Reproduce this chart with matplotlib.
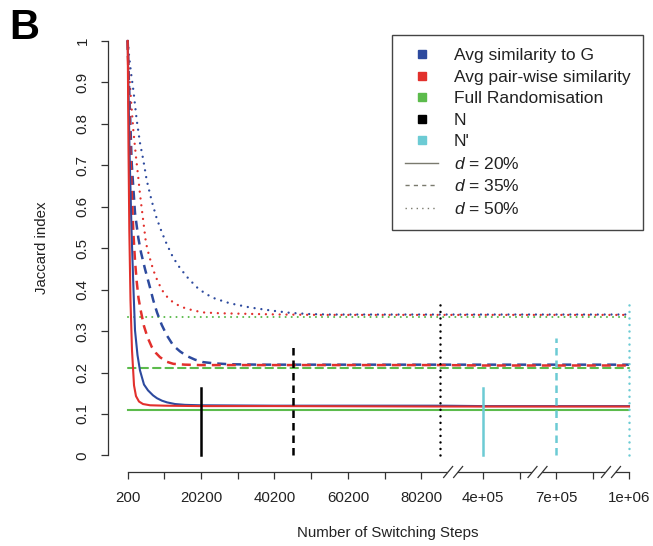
import numpy as np
import matplotlib
matplotlib.use('Agg')
import matplotlib.pyplot as plt
from matplotlib.lines import Line2D
from matplotlib.patches import Polygon

plt.rcParams['font.family'] = ['Liberation Sans', 'DejaVu Sans']
plt.rcParams['mathtext.fontset'] = 'custom'
plt.rcParams['mathtext.it'] = 'Liberation Sans:italic'

# ---- data ----
# d = 20%
red20_x = [200, 420, 640, 960, 1370, 1920, 2460, 3280, 4370, 6280, 10360, 20000, 40000, 86000, 400000, 700000, 1000000]
red20_y = [1.0, 0.737, 0.543, 0.374, 0.254, 0.169, 0.143, 0.130, 0.124, 0.121, 0.120, 0.119, 0.119, 0.118, 0.118, 0.118, 0.118]
blue20_x = [200, 690, 1236, 1780, 2190, 2870, 3550, 4640, 5730, 7090, 8180, 9550, 10910, 13090, 15810, 19900, 40000, 86000, 400000, 700000, 1000000]
blue20_y = [1.0, 0.737, 0.543, 0.399, 0.302, 0.242, 0.205, 0.171, 0.157, 0.145, 0.138, 0.132, 0.128, 0.124, 0.122, 0.121, 0.120, 0.120, 0.119, 0.119, 0.119]
# d = 35%
red35_x = [200, 420, 830, 1290, 1730, 2190, 2650, 3140, 3740, 4640, 5600, 6740, 7910, 9000, 10830, 12630, 15810, 19900, 40000, 86000, 400000, 700000, 1000000]
red35_y = [1.0, 0.906, 0.761, 0.640, 0.540, 0.470, 0.420, 0.380, 0.350, 0.312, 0.285, 0.262, 0.247, 0.237, 0.226, 0.221, 0.219, 0.218, 0.218, 0.218, 0.217, 0.217, 0.217]
blue35_x = [200, 360, 830, 1290, 2190, 3090, 3820, 4910, 6280, 7180, 8190, 9470, 10910, 12630, 14450, 16280, 18540, 20800, 23990, 28080, 36250, 86000, 400000, 700000, 1000000]
blue35_y = [1.0, 0.947, 0.826, 0.705, 0.585, 0.525, 0.490, 0.450, 0.405, 0.374, 0.345, 0.315, 0.289, 0.265, 0.251, 0.240, 0.231, 0.225, 0.222, 0.220, 0.219, 0.219, 0.219, 0.219, 0.219]
# d = 50%
red50_x = [200, 550, 1100, 1730, 2460, 3090, 3550, 4450, 5190, 6000, 7180, 8460, 9910, 11190, 12630, 14450, 16280, 18540, 20800, 25350, 30800, 41700, 52600, 86000, 400000, 700000, 1000000]
red50_y = [1.0, 0.930, 0.857, 0.785, 0.720, 0.670, 0.630, 0.565, 0.512, 0.483, 0.447, 0.418, 0.394, 0.380, 0.369, 0.360, 0.354, 0.349, 0.345, 0.343, 0.342, 0.340, 0.339, 0.339, 0.339, 0.339, 0.339]
blue50_x = [200, 550, 1100, 1730, 2660, 3550, 4450, 5380, 6740, 8100, 9470, 10830, 12540, 14450, 16630, 19000, 21260, 23530, 25900, 28080, 33530, 38980, 44430, 49880, 55330, 86000, 400000, 700000, 1000000]
blue50_y = [1.0, 0.966, 0.923, 0.882, 0.809, 0.754, 0.713, 0.664, 0.614, 0.572, 0.539, 0.510, 0.478, 0.452, 0.428, 0.406, 0.391, 0.380, 0.373, 0.367, 0.357, 0.350, 0.344, 0.341, 0.340, 0.340, 0.340, 0.340, 0.340]

# full randomisation levels (d = 20, 35, 50 %)
green_levels = [0.110, 0.212, 0.334]
# N (black) and N' (cyan) switching steps, and the height of their markers
n_steps = [20200, 45200, 85300]
n_heights = [0.162, 0.262, 0.370]
nprime_steps = [400000, 700000, 1000000]
nprime_heights = [0.163, 0.284, 0.370]

xtick_vals = [200, 10200, 20200, 30200, 40200, 50200, 60200, 70200, 80200,
              400000, 410000, 700000, 710000, 1000000]
xtick_labels = ['200', '', '20200', '', '40200', '', '60200', '', '80200',
                '4e+05', '', '7e+05', '', '1e+06']
ytick_vals = [0, 0.1, 0.2, 0.3, 0.4, 0.5, 0.6, 0.7, 0.8, 0.9, 1.0]
ytick_labels = ['0', '0.1', '0.2', '0.3', '0.4', '0.5', '0.6', '0.7', '0.8', '0.9', '1']
break_at = [240000, 555000, 855000]  # values that fall inside the axis gaps

BLUE = '#2d4a9e'
RED = '#e2302c'
GREEN = '#5cbb4c'
CYAN = '#6ccbd4'
GREY = '#7a7a6e'

# ---- broken x axis as a piecewise linear scale ----
data_knots = np.array([-1e6, 200, 86200, 394550, 412125, 697684, 712262, 997820, 1e6, 1e7])
pos_knots = np.array([-3543.0, 127.7, 443.3, 463.0, 527.5, 547.5, 601.0, 621.0, 629.0, 33659.0])


def fwd(x):
    return np.interp(x, data_knots, pos_knots)


def inv(p):
    return np.interp(p, pos_knots, data_knots)


fig = plt.figure(figsize=(6.53, 5.46), dpi=100)
ax = fig.add_axes([107.7 / 653, 1 - 472 / 546, 541.3 / 653, 447.6 / 546])
ax.set_xscale('function', functions=(fwd, inv))
ax.set_xlim(inv(107.7), inv(649.0))
ax.set_ylim(-0.04, 1.04)

dot = (0, (0.01, 2.9))
dash = (0, (3.6, 2.4))
lw = 1.5

# green reference lines
for lvl, ls in zip(green_levels, ['-', dash, dot]):
    ax.plot([200, 1000000], [lvl, lvl], color=GREEN, lw=lw, linestyle=ls,
            dash_capstyle='round', zorder=2)

ax.plot(blue50_x, blue50_y, color=BLUE, lw=lw + 0.2, linestyle=dot, dash_capstyle='round', zorder=3)
ax.plot(red50_x, red50_y, color=RED, lw=lw + 0.2, linestyle=dot, dash_capstyle='round', zorder=3)
ax.plot(blue35_x, blue35_y, color=BLUE, lw=lw + 0.3, linestyle=dash, zorder=3)
ax.plot(red35_x, red35_y, color=RED, lw=lw + 0.3, linestyle=dash, zorder=3)
ax.plot(blue20_x, blue20_y, color=BLUE, lw=lw, zorder=4)
ax.plot(red20_x, red20_y, color=RED, lw=lw, zorder=4)

# N / N' markers
vstyles = ['-', (0, (3.0, 2.0)), (0, (0.01, 2.6))]
for xs, hs, col in [(n_steps, n_heights, 'black'), (nprime_steps, nprime_heights, CYAN)]:
    for xv, hv, ls in zip(xs, hs, vstyles):
        ax.plot([xv, xv], [0, hv], color=col, lw=1.8, linestyle=ls,
                dash_capstyle='round' if ls == vstyles[2] else 'butt', zorder=5)

# axes in R style
for s in ['top', 'right']:
    ax.spines[s].set_visible(False)
for s in ['left', 'bottom']:
    ax.spines[s].set_color('#333333')
    ax.spines[s].set_linewidth(0.9)
ax.spines['left'].set_bounds(0, 1)
ax.spines['bottom'].set_bounds(200, 1000000)

ax.set_xticks(xtick_vals)
ax.set_xticklabels(xtick_labels)
ax.set_yticks(ytick_vals)
ax.set_yticklabels(ytick_labels, rotation=90, va='center')
ax.tick_params(axis='both', direction='out', length=5, width=0.9, color='#333333',
               labelsize=10.8, labelcolor='#222222')
ax.tick_params(axis='x', pad=9)
ax.tick_params(axis='y', pad=8)

ax.set_xlabel('Number of Switching Steps', fontsize=10.8, color='#222222', va='center')
ax.xaxis.set_label_coords(0.518, -0.136)
ax.set_ylabel('Jaccard index', fontsize=10.8, color='#222222', va='center')
ax.yaxis.set_label_coords(-0.121, 0.5)

# axis break marks
W, H = 541.3, 447.6
for b in break_at:
    cx = ax.transAxes.inverted().transform(ax.transData.transform((b, 0)))[0]
    sx, sy = 4.5 / W, 5.5 / H
    l0, l1 = cx - 5 / W, cx + 5 / W
    ax.add_patch(Polygon([(l0 - sx, -sy), (l1 - sx, -sy), (l1 + sx, sy), (l0 + sx, sy)],
                         closed=True, transform=ax.transAxes, facecolor='white',
                         edgecolor='none', clip_on=False, zorder=6))
    for c in (l0, l1):
        ax.add_line(Line2D([c - sx, c + sx], [-sy, sy], transform=ax.transAxes,
                           color='#333333', lw=0.9, clip_on=False, zorder=7))

# legend
handles = [
    Line2D([], [], linestyle='none', marker='s', markersize=5.5, color=BLUE),
    Line2D([], [], linestyle='none', marker='s', markersize=5.5, color=RED),
    Line2D([], [], linestyle='none', marker='s', markersize=5.5, color=GREEN),
    Line2D([], [], linestyle='none', marker='s', markersize=5.5, color='black'),
    Line2D([], [], linestyle='none', marker='s', markersize=5.5, color=CYAN),
    Line2D([], [], color=GREY, lw=1.0),
    Line2D([], [], color=GREY, lw=1.0, linestyle=(0, (3, 3))),
    Line2D([], [], color=GREY, lw=1.0, linestyle=(0, (1, 3))),
]
labels = ['Avg similarity to G', 'Avg pair-wise similarity', 'Full Randomisation',
          'N', "N'", r'$\it{d}$ = 20%', r'$\it{d}$ = 35%', r'$\it{d}$ = 50%']
leg = ax.legend(handles, labels, loc='upper left', bbox_to_anchor=(392 / 653, 1 - 35 / 546),
                bbox_transform=fig.transFigure, borderaxespad=0, fontsize=12.5,
                frameon=True, fancybox=False, edgecolor='#444444', framealpha=1,
                handlelength=1.9, handletextpad=0.9, labelspacing=0.37, borderpad=0.75)
leg.get_frame().set_linewidth(1.0)
for t in leg.get_texts():
    t.set_color('#222222')

fig.text(0.014, 0.985, 'B', fontsize=30, fontweight='bold', va='top', ha='left')

fig.savefig('out.png', dpi=100)
